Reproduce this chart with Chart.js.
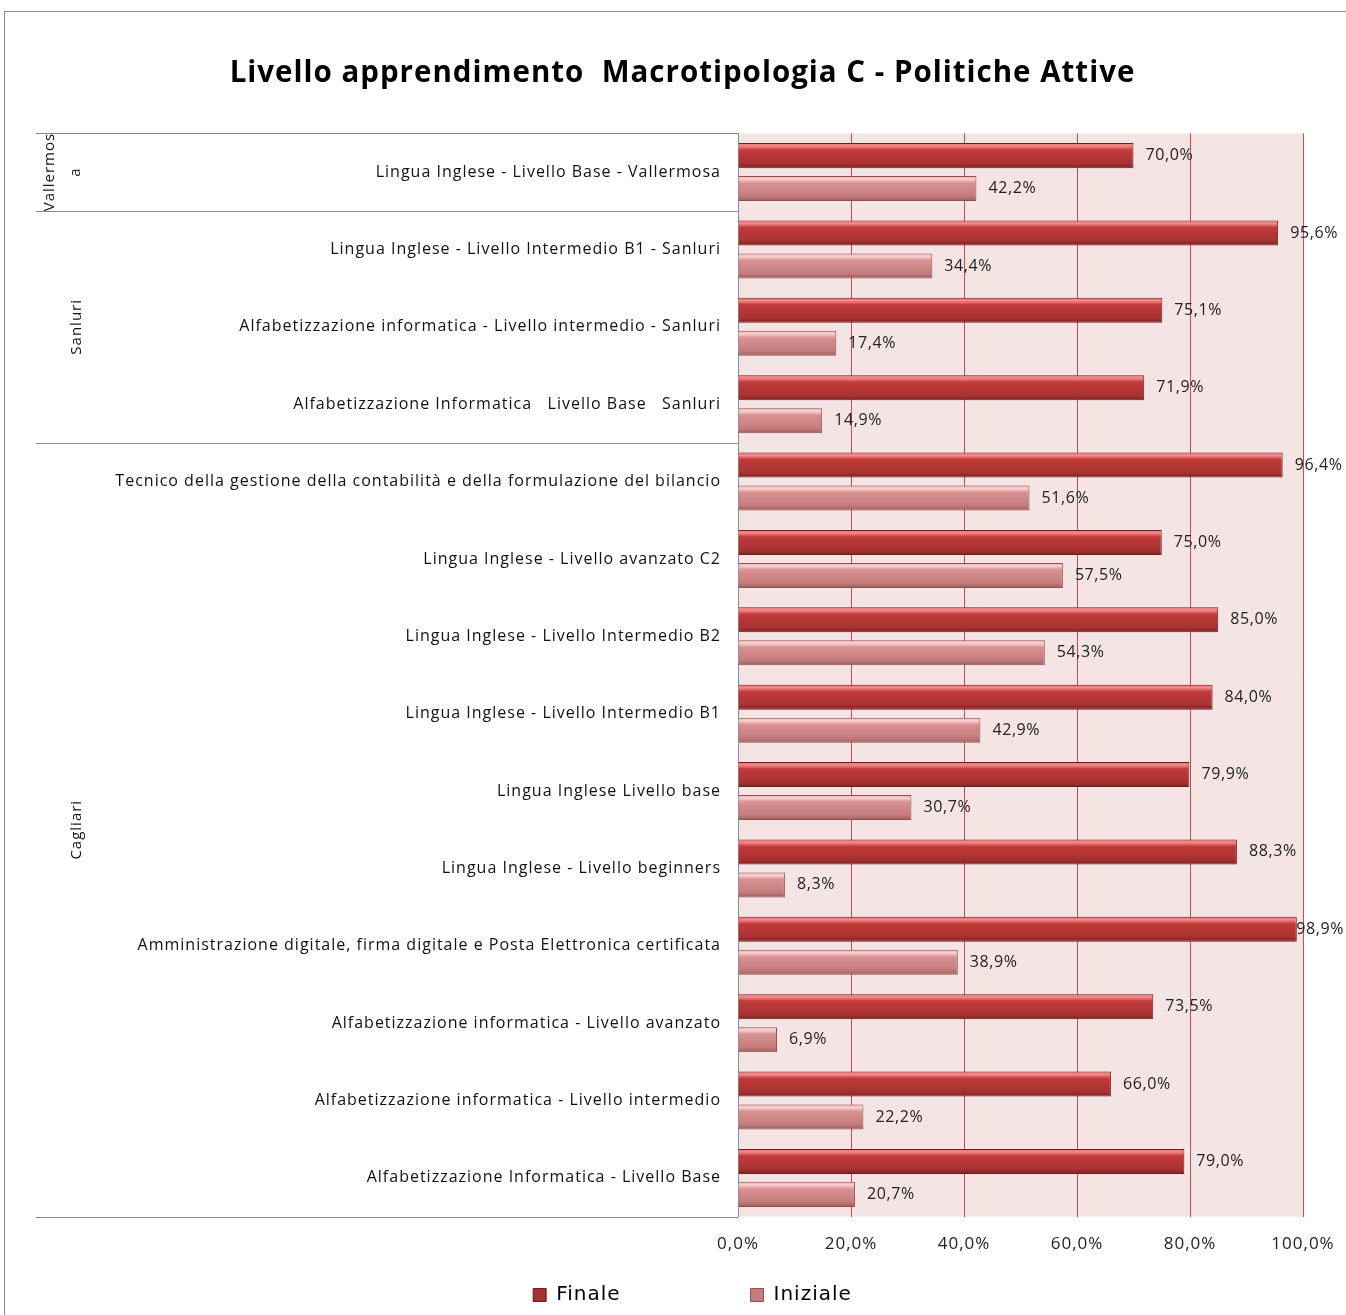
<!DOCTYPE html>
<html>
<head>
<meta charset="utf-8">
<script src="https://cdn.jsdelivr.net/npm/chart.js@4"></script>
<style>
  html, body { margin: 0; padding: 0; background: #fff; }
  #wrap { position: relative; width: 1346px; height: 1315px; }
  #frame { position: absolute; left: 4px; top: 11px; right: -2px; bottom: -2px; border: 1px solid #8c8c8c; pointer-events: none; }
</style>
</head>
<body>
<div id="wrap">
  <canvas id="chart" width="1346" height="1315"></canvas>
  <div id="frame"></div>
</div>
<script>
/* ─── data ─── */
const LABELS = [
  'Lingua Inglese - Livello Base - Vallermosa',
  'Lingua Inglese - Livello Intermedio B1 - Sanluri',
  'Alfabetizzazione informatica - Livello intermedio - Sanluri',
  'Alfabetizzazione Informatica   Livello Base   Sanluri',
  'Tecnico della gestione della contabilità e della formulazione del bilancio',
  'Lingua Inglese - Livello avanzato C2',
  'Lingua Inglese - Livello Intermedio B2',
  'Lingua Inglese - Livello Intermedio B1',
  'Lingua Inglese Livello base',
  'Lingua Inglese - Livello beginners',
  'Amministrazione digitale, firma digitale e Posta Elettronica certificata',
  'Alfabetizzazione informatica - Livello avanzato',
  'Alfabetizzazione informatica - Livello intermedio',
  'Alfabetizzazione Informatica - Livello Base',
];
const FINALE = [70.0, 95.6, 75.1, 71.9, 96.4, 75.0, 85.0, 84.0, 79.9, 88.3, 98.9, 73.5, 66.0, 79.0];
const INIZIALE = [42.2, 34.4, 17.4, 14.9, 51.6, 57.5, 54.3, 42.9, 30.7, 8.3, 38.9, 6.9, 22.2, 20.7];

// group name (lines) and how many categories it spans, top to bottom
const GROUP_NAMES = [['Vallermos', 'a'], ['Sanluri'], ['Cagliari']];
const GROUP_SIZES = [1, 3, 10];

const X_TICKS = [0, 20, 40, 60, 80, 100];

const CAT_PCT = 0.853;
const BAR_PCT = 0.76;
const FONT = "'Open Sans', Lato, sans-serif";

function pct(v) {
  return v.toFixed(1).replace('.', ',') + '%';
}

// bevelled bar look: light top edge, body, darker bottom
function barFill(stops) {
  return (ctx) => {
    const chart = ctx.chart;
    const y = chart.scales && chart.scales.y;
    if (ctx.type !== 'data' || !y || !isFinite(y.top)) return stops[2];
    const cw = (y.bottom - y.top) / LABELS.length;
    const slot = cw * CAT_PCT / 2;
    const c = y.getPixelForValue(ctx.dataIndex) + (ctx.datasetIndex === 0 ? -slot / 2 : slot / 2);
    const h = slot * BAR_PCT;
    const g = chart.ctx.createLinearGradient(0, c - h / 2, 0, c + h / 2);
    g.addColorStop(0, stops[0]);
    g.addColorStop(0.12, stops[1]);
    g.addColorStop(0.28, stops[2]);
    g.addColorStop(0.8, stops[3]);
    g.addColorStop(1, stops[4]);
    return g;
  };
}

const RED_STOPS = ['#e86a6a', '#f58a8a', '#c23a3a', '#a83232', '#7d2222'];
const PINK_STOPS = ['#eeb0b0', '#fbd0d0', '#d99292', '#c47c7c', '#9d5c5c'];

/* ─── plugins ─── */
const plotBackground = {
  id: 'plotBackground',
  beforeLayout(chart) {
    chart.ctx.letterSpacing = '0px';
  },
  beforeDraw(chart) {
    const { ctx, chartArea: a } = chart;
    // the original text is set a little loose
    ctx.letterSpacing = '1px';
    ctx.save();
    ctx.fillStyle = '#f5e4e4';
    ctx.fillRect(a.left, a.top, a.right - a.left, a.bottom - a.top);
    ctx.restore();
  },
};

// the original title and legend sit a bit right of the default centre
const boxShift = {
  id: 'boxShift',
  afterLayout(chart) {
    chart.legend.left += 31;
    chart.legend.right += 31;
    chart.titleBlock.left += 31;
    chart.titleBlock.right += 31;
  },
};

const groupAxis = {
  id: 'groupAxis',
  afterDraw(chart) {
    const { ctx, chartArea: a } = chart;
    const y = chart.scales.y;
    const cw = (y.bottom - y.top) / LABELS.length;
    ctx.save();
    ctx.strokeStyle = '#8c8c8c';
    ctx.lineWidth = 1;
    let idx = 0;
    const edges = [y.top];
    GROUP_SIZES.forEach((n) => { idx += n; edges.push(y.getPixelForValue(idx - 1) + cw / 2); });
    edges.forEach((py) => {
      ctx.beginPath();
      ctx.moveTo(36, Math.round(py) + 0.5);
      ctx.lineTo(a.left, Math.round(py) + 0.5);
      ctx.stroke();
    });
    ctx.fillStyle = '#111';
    ctx.font = '15px ' + FONT;
    ctx.textAlign = 'center';
    ctx.textBaseline = 'middle';
    GROUP_NAMES.forEach((lines, i) => {
      const cy = (edges[i] + edges[i + 1]) / 2;
      const x0 = lines.length > 1 ? 50 : 77;
      lines.forEach((t, j) => {
        ctx.save();
        ctx.translate(x0 + j * 26, cy);
        ctx.rotate(-Math.PI / 2);
        ctx.fillText(t, 0, 0);
        ctx.restore();
      });
    });
    ctx.restore();
    ctx.letterSpacing = '0px';
  },
};

const valueLabels = {
  id: 'valueLabels',
  afterDatasetsDraw(chart) {
    const { ctx } = chart;
    ctx.save();
    ctx.fillStyle = '#222';
    ctx.font = '16px ' + FONT;
    ctx.letterSpacing = '0.6px';
    ctx.textAlign = 'left';
    ctx.textBaseline = 'middle';
    chart.data.datasets.forEach((ds, di) => {
      chart.getDatasetMeta(di).data.forEach((bar, i) => {
        const text = pct(ds.data[i]);
        // keep labels of the longest bars inside the canvas
        const x = Math.min(bar.x + 12, chart.width - ctx.measureText(text).width - 2);
        ctx.fillText(text, x, bar.y);
      });
    });
    ctx.restore();
  },
};

/* ─── chart ─── */
new Chart(document.getElementById('chart'), {
  type: 'bar',
  data: {
    labels: LABELS,
    datasets: [
      {
        label: 'Finale',
        data: FINALE,
        backgroundColor: barFill(RED_STOPS),
        borderColor: '#6e1d1d',
        borderWidth: 1,
        categoryPercentage: CAT_PCT,
        barPercentage: BAR_PCT,
      },
      {
        label: 'Iniziale',
        data: INIZIALE,
        backgroundColor: barFill(PINK_STOPS),
        borderColor: '#8e5050',
        borderWidth: 1,
        categoryPercentage: CAT_PCT,
        barPercentage: BAR_PCT,
      },
    ],
  },
  options: {
    indexAxis: 'y',
    responsive: false,
    animation: false,
    devicePixelRatio: 1,
    layout: { padding: { left: 0, right: 43, top: 0, bottom: 0 } },
    plugins: {
      title: {
        display: true,
        text: 'Livello apprendimento  Macrotipologia C - Politiche Attive',
        color: '#000',
        font: { family: FONT, size: 29.5, weight: 'bold' },
        padding: { top: 56, bottom: 42 },
      },
      legend: {
        position: 'bottom',
        labels: {
          font: { family: 'DejaVu Sans', size: 20 },
          color: '#000',
          boxWidth: 13,
          boxHeight: 13,
          padding: 14,
          generateLabels: (chart) => chart.data.datasets.map((ds, i) => ({
            text: i === 0 ? ds.label + '\u2003\u2003\u2003\u2003\u2003\u2002' : ds.label,
            fillStyle: i === 0 ? '#a83232' : '#c47c7c',
            strokeStyle: i === 0 ? '#6e1d1d' : '#8e5050',
            lineWidth: 1,
            datasetIndex: i,
          })),
        },
      },
      tooltip: { enabled: false },
    },
    scales: {
      x: {
        min: 0,
        max: 100,
        afterBuildTicks: (scale) => { scale.ticks = X_TICKS.map((v) => ({ value: v })); },
        // let the layout padding alone decide where the plot ends
        afterFit: (scale) => { scale.paddingRight = 0; },
        grid: { color: '#c0504d', drawTicks: false, lineWidth: 1 },
        border: { display: false },
        ticks: {
          padding: 17,
          color: '#222',
          font: { family: FONT, size: 17 },
          callback: (v) => pct(v),
        },
      },
      y: {
        afterFit: (scale) => { scale.width = 738; },
        grid: { display: false, drawTicks: false },
        border: { display: true, color: '#8c8c8c' },
        ticks: {
          padding: 17,
          color: '#111',
          font: { family: FONT, size: 16 },
          autoSkip: false,
        },
      },
    },
  },
  plugins: [plotBackground, boxShift, groupAxis, valueLabels],
});
</script>
</body>
</html>
